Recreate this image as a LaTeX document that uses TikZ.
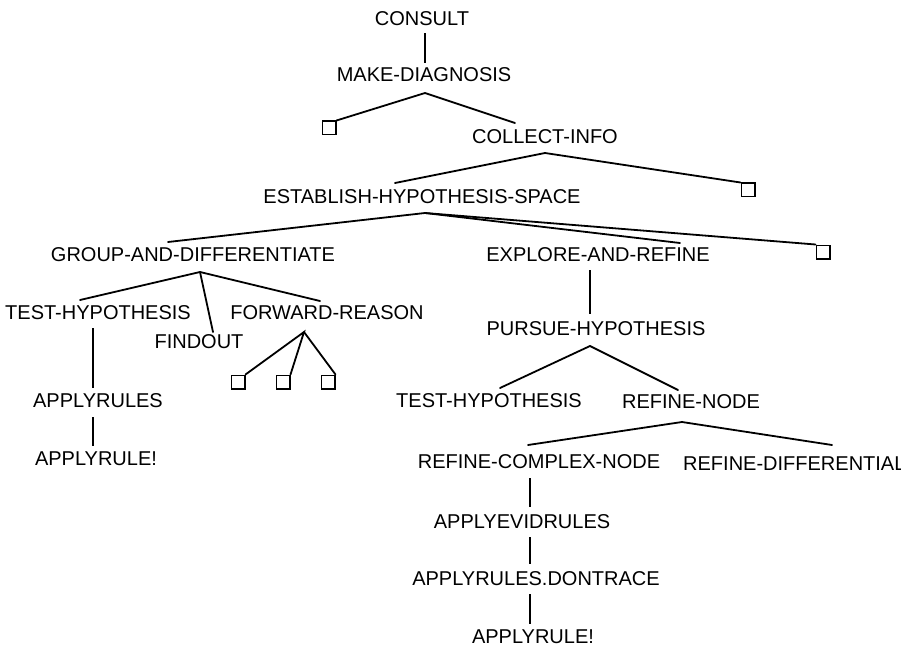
\documentclass[tikz,border=0pt]{standalone}
\usepackage{fontspec}
\setmainfont{Liberation Sans}
\usetikzlibrary{calc}
\begin{document}
\begin{tikzpicture}[x=1pt,y=-1pt,
  goal/.style={inner sep=0pt, font=\fontsize{20}{23}\selectfont},
  leaf/.style={draw, line width=1.5pt, minimum size=13.5pt, inner sep=0pt},
  branch/.style={line width=1.8pt, line cap=round},
  stem/.style={line width=1.2pt}]
\useasboundingbox (0,0) rectangle (901,652);

% goal nodes
\node[goal] (consult)  at (422,19)  {CONSULT};
\node[goal] (makediag) at (424,75)  {MAKE-DIAGNOSIS};
\node[leaf] (ba)       at (329,128) {};
\node[goal] (collect)  at (545,137) {COLLECT-INFO};
\node[goal] (estab)    at (422,197) {ESTABLISH-HYPOTHESIS-SPACE};
\node[leaf] (bb)       at (748,190) {};
\node[goal] (group)    at (193,255) {GROUP-AND-DIFFERENTIATE};
\node[goal] (explore)  at (598,255) {EXPLORE-AND-REFINE};
\node[leaf] (bc)       at (823,252) {};
\node[goal] (testa)    at (98,313)  {TEST-HYPOTHESIS};
\node[goal] (findout)  at (199,342) {FINDOUT};
\node[goal] (forward)  at (327,313) {FORWARD-REASON};
\node[leaf] (bd)       at (238,382) {};
\node[leaf] (be)       at (283,382) {};
\node[leaf] (bf)       at (328,382) {};
\node[goal] (rulesa)   at (98,401)  {APPLYRULES};
\node[goal] (rulea)    at (96,459)  {APPLYRULE!};
\node[goal] (pursue)   at (596,329) {PURSUE-HYPOTHESIS};
\node[goal] (testb)    at (489,401) {TEST-HYPOTHESIS};
\node[goal] (refine)   at (691,402) {REFINE-NODE};
\node[goal] (complex)  at (539,462) {REFINE-COMPLEX-NODE};
\node[goal, anchor=west] (diff) at (683,464) {REFINE-DIFFERENTIAL};
\node[goal] (evid)     at (522,522) {APPLYEVIDRULES};
\node[goal] (dontrace) at (536,579) {APPLYRULES.DONTRACE};
\node[goal] (ruleb)    at (533,637) {APPLYRULE!};

% fork points below each parent and the ends of the branches
\coordinate (mdF) at (425,93);
\coordinate (mdR) at (515,123);
\coordinate (ciF) at (545,153);
\coordinate (ciL) at (395,183);
\coordinate (ehF) at (425,213);
\coordinate (ehL) at (168,242);
\coordinate (ehM) at (680,243);
\coordinate (gdF) at (200,272);
\coordinate (gdL) at (80,300);
\coordinate (gdM) at (213,332);
\coordinate (gdR) at (320,301);
\coordinate (frF) at (304,332);
\coordinate (phF) at (590,346);
\coordinate (phL) at (500,388);
\coordinate (phR) at (678,390);
\coordinate (rnF) at (682,422);
\coordinate (rnL) at (528,445);
\coordinate (rnR) at (832,445);

% branches
\draw[branch] (ba.north east) -- (mdF) -- (mdR);
\draw[branch] (ciL) -- (ciF) -- (bb.north west);
\draw[branch] (ehL) -- (ehF) -- (ehM);
\draw[branch] (ehF) -- (bc.north west);
\draw[branch] (gdL) -- (gdF) -- (gdR);
\draw[branch] (gdF) -- (gdM);
\draw[branch] (bd.north east) -- (frF) -- (be.north east);
\draw[branch] (frF) -- (bf.north east);
\draw[branch] (phL) -- (phF) -- (phR);
\draw[branch] (rnL) -- (rnF) -- (rnR);

% single-child links
\draw[stem] ($(consult.south -| mdF)+(0,7)$) -- ($(mdF |- makediag.north)+(0,-5)$);
\draw[stem] ($(testa.south -| rulesa.north)+(-5,8)$) -- ($(rulesa.north)+(-5,-6)$);
\draw[stem] ($(rulesa.south)+(-5,9)$) -- ($(rulea.north -| rulesa.north)+(-5,-6)$);
\draw[stem] ($(explore.south)+(-8,8)$) -- ($(pursue.north)+(-6,-8)$);
\draw[stem] ($(complex.south)+(-9,9)$) -- ($(evid.north)+(8,-8)$);
\draw[stem] ($(evid.south)+(8,8)$) -- ($(dontrace.north)+(-6,-8)$);
\draw[stem] ($(dontrace.south)+(-6,8)$) -- ($(ruleb.north)+(-3,-6)$);
\end{tikzpicture}
\end{document}
